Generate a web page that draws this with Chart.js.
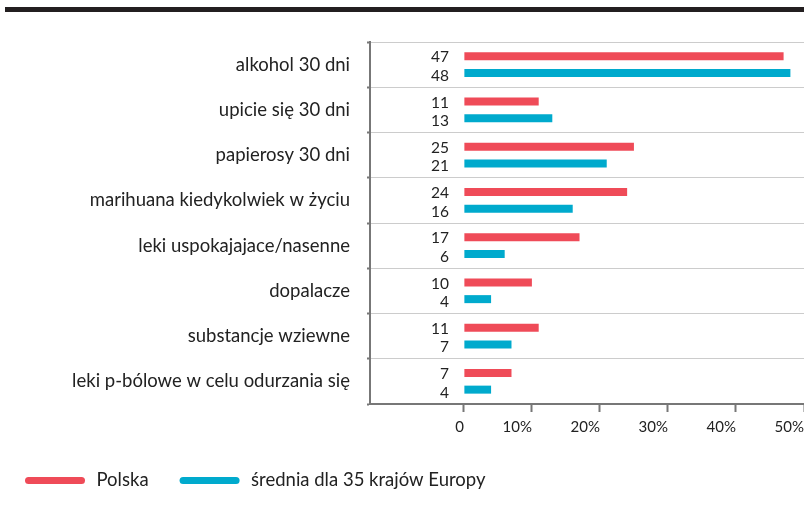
<!DOCTYPE html>
<html>
<head>
<meta charset="utf-8">
<script src="https://cdn.jsdelivr.net/npm/chart.js@4/dist/chart.umd.min.js"></script>
<style>
html,body{margin:0;padding:0;background:#fff;}
#wrap{position:relative;width:804px;height:508px;}
</style>
</head>
<body>
<div id="wrap"><canvas id="c" width="804" height="508"></canvas></div>
<script>
const categories = [
  "alkohol 30 dni",
  "upicie się 30 dni",
  "papierosy 30 dni",
  "marihuana kiedykolwiek w życiu",
  "leki uspokajajace/nasenne",
  "dopalacze",
  "substancje wziewne",
  "leki p-bólowe w celu odurzania się"
];
const polska = [47, 11, 25, 24, 17, 10, 11, 7];
const europa = [48, 13, 21, 16, 6, 4, 7, 4];
const xTicks = [0, 10, 20, 30, 40, 50];
const seriesNames = ["Polska", "średnia dla 35 krajów Europy"];

const FONT = "Lato, 'Open Sans', sans-serif";
const RED = "#ef4b58";
const BLUE = "#00aacd";

const topBand = {
  id: 'topBand',
  beforeDraw(chart) {
    const ctx = chart.ctx;
    ctx.save();
    ctx.fillStyle = '#231f20';
    ctx.fillRect(5, 7, 799, 5);
    ctx.restore();
  }
};

const valueLabels = {
  id: 'valueLabels',
  afterDatasetsDraw(chart) {
    const ctx = chart.ctx;
    const xs = chart.scales.x;
    ctx.save();
    ctx.font = "15.5px " + FONT;
    ctx.fillStyle = '#222';
    ctx.textAlign = 'right';
    ctx.textBaseline = 'middle';
    chart.data.datasets.forEach((ds, di) => {
      const meta = chart.getDatasetMeta(di);
      meta.data.forEach((bar, i) => {
        ctx.fillText(String(ds.data[i]), xs.getPixelForValue(0) - 15, bar.y + (di === 0 ? 1 : 3));
      });
    });
    ctx.restore();
  }
};

const customLegend = {
  id: 'customLegend',
  afterDraw(chart) {
    const ctx = chart.ctx;
    ctx.save();
    ctx.font = "18.5px " + FONT;
    ctx.textBaseline = 'middle';
    ctx.textAlign = 'left';
    ctx.lineCap = 'round';
    ctx.lineWidth = 7;
    const y = 480.5;
    let x = 28.5;
    chart.data.datasets.forEach((ds) => {
      ctx.strokeStyle = ds.backgroundColor;
      ctx.beginPath();
      ctx.moveTo(x, y);
      ctx.lineTo(x + 53, y);
      ctx.stroke();
      const tx = x + 68;
      ctx.fillStyle = '#222';
      ctx.fillText(ds.label, tx, y);
      x = tx + ctx.measureText(ds.label).width + 34.5;
    });
    ctx.restore();
  }
};

new Chart(document.getElementById('c'), {
  type: 'bar',
  data: {
    labels: categories,
    datasets: [
      { label: seriesNames[0], data: polska, backgroundColor: RED, borderWidth: 0 },
      { label: seriesNames[1], data: europa, backgroundColor: BLUE, borderWidth: 0 }
    ]
  },
  options: {
    indexAxis: 'y',
    responsive: false,
    animation: false,
    devicePixelRatio: 1,
    layout: { padding: { top: 42, right: 0, left: 10, bottom: 56 } },
    datasets: { bar: { categoryPercentage: 0.73, barPercentage: 0.485 } },
    scales: {
      x: {
        min: -13.8,
        max: 50,
        afterBuildTicks(scale) { scale.ticks = xTicks.map(v => ({ value: v })); },
        afterFit(scale) { scale.height = 48; scale.paddingRight = 0; scale.paddingLeft = 0; },
        border: { display: true, color: '#777', width: 2 },
        grid: { drawOnChartArea: false, drawTicks: true, tickLength: 8, tickColor: '#777', tickWidth: 2 },
        ticks: {
          align: 'end',
          color: '#222',
          font: { family: FONT, size: 15 },
          padding: 6,
          callback: (v) => v === 0 ? '0' : v + '%'
        }
      },
      y: {
        afterFit(scale) { scale.width = 370 - 10; scale.paddingTop = 0; scale.paddingBottom = 0; },
        border: { display: true, color: '#777', width: 2 },
        grid: { color: '#cccccc', lineWidth: 1, offset: true, tickLength: 3, tickColor: '#777', tickWidth: 2 },
        ticks: { color: '#222', font: { family: FONT, size: 18.5 }, padding: 17 }
      }
    },
    plugins: {
      tooltip: { enabled: false },
      legend: { display: false }
    }
  },
  plugins: [topBand, valueLabels, customLegend]
});
</script>
</body>
</html>
